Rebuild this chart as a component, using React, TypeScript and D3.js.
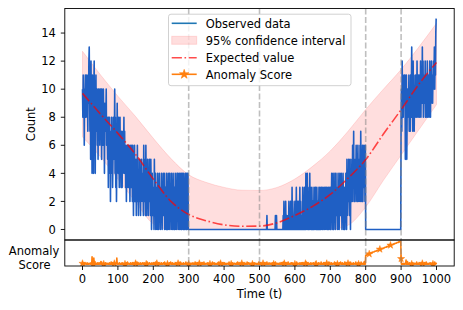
import React from "react";
import * as d3 from "d3";

const Z = "0000000000";

// Observed counts, one hex digit per time step t = 0..1000
const observedChunks = [
  "a8b9a6a9b8", "9ab8a7b9cd", "a7b5c8a4b9", "84ac6a49b7", "8a695a7a86",
  "9a7a5a896a", "7849798a68", "7583868472", "6484735857", "6a48372596",
  "7485368473", "5736475847", "4636253645", "3645264536", "5264153624",
  "3514263514", "4253142534", "2416352416", "3142531425", "2415302413",
  "1305214031", "2041302413", "0314203142", "1402310420", "3041204132",
  "0413024103", "2041302414", "0314024103", "4024104302", "1404204140",
  Z, Z, Z, Z, Z, Z, Z, Z, Z, Z, Z, Z, Z, Z, Z, Z, Z, Z, Z, Z, Z, Z,
  "0100000000", "0000000000", "0000010010", "0000000000", "0000000102",
  "0010200100", "0102001020", "1030201001", "2010301020", "0201302010",
  "1030201302", "0403140201", "3041302031", "0201302130", "2031020130",
  "1302031203", "0213021302", "3102301320", "1302413042", "0314204131",
  "2041302413", "1420314203", "2031420513", "4253125042", "3526437253",
  "2536425263", "4253627352", "3625364526",
  Z, Z, Z, Z, Z, Z, Z, Z, Z, Z,
  "8a7c9b8a9b", "9b5a7b58a9", "a8b79a7b8a", "d8a7c9b7a9", "8b9a8c9a8b",
  "9b8a9c8ba9", "d9c8a9b9c8", "a8b9c8a9b8", "9ca8b9cab9", "bacbdacbef",
  "f",
];
const observed: number[] = observedChunks.join("").split("").map((c) => parseInt(c, 16));

// Anomaly score, one base-36 digit per time step (value / 35)
const scoreChunks = [
  "2121312122", "1213121212", "2121321c32", "12a2151212", "1213121312",
  "2151412121", "1212131212", "2121213121", "1412131212", "2121213a21",
  "1212312121", "2131212121", "1213121412", "2121213121", "1312121213",
  "2121412121", "1213121213", "2121312121", "1214121213", "2121213121",
  "1312121412", "2121312121", "1213121213", "2141212121", "1212131214",
  "2121312121", "1213121212", "2131214121", "1212131212", "2141212131",
  "1212121212", "2131212141", "1212131212", "2121212131", "1214121212",
  "2121312121", "1212121412", "2131212121", "1212141212", "2121213121",
  "1312121212", "2121412121", "1213121212", "2121213141", "1212121212",
  "2131212121", "1212141213", "2121212121", "1312131212", "2121212141",
  "1213121212", "2121312121", "1412121312", "2121213121", "1312141212",
  "2121212131", "1213121412", "2121312121", "1412121213", "2131212121",
  "1212141212", "2121312131", "1312121212", "2141213121", "1212131212",
  "2131212141", "1212121312", "2121412121", "1312131212", "2121214131",
  "1213121212", "2141213121", "1212131214", "2121312121", "1412121312",
  "2131214121", "1212131212", "2141212131", "1312121412", "2121315121",
  "eeefffgggg", "ghhhhiiiii", "jjjjjkkkkk", "lllllmmmmm", "nnnnoooooo",
  "ppppqqqqqr", "rrrrssssst", "ttttuuuuuv", "vvvwwwwwxx", "xxxyyyyyzz",
  "9121121212", "1213712151", "2121312121", "1213121212", "2121412121",
  "1312121312", "2121213121", "1412121212", "2131212131", "1212141212",
  "1",
];
const anomalyScore: number[] = scoreChunks.join("").split("").map((c) => parseInt(c, 36) / 35);

// Expected value and 95% confidence interval, sampled every 50 steps
const sampleT = [0, 50, 100, 150, 200, 250, 300, 350, 400, 450, 500, 550, 600, 650, 700, 750, 800, 850, 900, 950, 1000];
const expectedV = [9.7, 8.25, 6.85, 5.35, 3.6, 2.0, 1.07, 0.62, 0.33, 0.23, 0.24, 0.48, 1.0, 1.65, 2.5, 3.65, 4.98, 6.8, 8.54, 10.35, 11.9];
const ciUpper = [12.7, 11.05, 9.5, 8.05, 6.5, 5.05, 3.9, 3.35, 3.0, 2.8, 2.78, 3.0, 3.6, 4.5, 5.6, 7.0, 8.55, 10.0, 11.4, 13.0, 14.7];
const ciLower = [6.6, 5.2, 3.6, 1.95, 0.4, 0, 0, 0, 0, 0, 0, 0, 0, 0, 0, 0.3, 1.6, 3.5, 5.3, 7.1, 8.9];

const xTicks = [0, 100, 200, 300, 400, 500, 600, 700, 800, 900, 1000];
const yTicks = [0, 2, 4, 6, 8, 10, 12, 14];
const changePoints = [300, 500, 800, 900];
const legendLabels = ["Observed data", "95% confidence interval", "Expected value", "Anomaly Score"];

const FONT = "DejaVu Sans, sans-serif";
const FS = 11.5;

export default function App() {
  const W = 463, H = 310;
  const L = 64.8, R = 454.2, T = 8.5, MB = 240, AB = 266;
  const x = d3.scaleLinear().domain([-50, 1050]).range([L, R]);
  const y = d3.scaleLinear().domain([-0.75, 15.75]).range([MB, T]);
  const ys = d3.scaleLinear().domain([-0.05, 1.05]).range([AB, MB]);

  const obsPath = d3.line<number>().x((_, i) => x(i)).y((d) => y(d))(observed) || "";
  const expPath = d3.line<number>().x((_, i) => x(sampleT[i])).y((d) => y(d)).curve(d3.curveMonotoneX)(expectedV) || "";
  const bandPath = d3.area<number>()
    .x((_, i) => x(sampleT[i]))
    .y0((_, i) => y(ciLower[i]))
    .y1((d) => y(d))
    .curve(d3.curveMonotoneX)(ciUpper) || "";
  const scorePath = d3.line<number>().x((_, i) => x(i)).y((d) => ys(d))(anomalyScore) || "";
  const star = d3.symbol().type(d3.symbolStar).size(16)() || "";
  const markIdx = anomalyScore.map((_, i) => i).filter((i) => i % 30 === 0);

  const orange = "#ff7f0e";
  const dataBlue = "#1f5fc4";
  const LW = 1.6;
  const dashDot = "10.2,2.6,1.6,2.6";
  const dash = "5.9,2.6";

  const legX0 = 171.7, legX1 = 196.7, legTx = 205.7;
  const rows = [23.3, 40.3, 57.7, 74.3];

  return (
    <svg width={W} height={H} style={{ position: "absolute", left: 0, top: 0, background: "white" }} fontFamily={FONT}>
      <defs>
        <clipPath id="mainClip"><rect x={L} y={T} width={R - L} height={MB - T} /></clipPath>
        <clipPath id="scoreClip"><rect x={L} y={MB} width={R - L} height={AB - MB} /></clipPath>
      </defs>
      <rect x={0} y={0} width={W} height={H} fill="white" />
      <g clipPath="url(#mainClip)">
        <path d={bandPath} fill="red" fillOpacity={0.13} stroke="red" strokeOpacity={0.12} strokeWidth={1} />
        <path d={obsPath} fill="none" stroke={dataBlue} strokeWidth={LW} strokeLinejoin="round" />
        <path d={expPath} fill="none" stroke="red" strokeOpacity={0.7} strokeWidth={LW} strokeDasharray={dashDot} />
        {changePoints.map((t) => (
          <line key={t} x1={x(t)} x2={x(t)} y1={T} y2={MB} stroke="gray" strokeOpacity={0.5} strokeWidth={LW} strokeDasharray={dash} />
        ))}
      </g>
      <g clipPath="url(#scoreClip)">
        <path d={scorePath} fill="none" stroke={orange} strokeWidth={LW} strokeLinejoin="round" />
        {markIdx.map((i) => (
          <path key={i} d={star} transform={`translate(${x(i)},${ys(anomalyScore[i])})`} fill={orange} stroke={orange} strokeWidth={0.5} />
        ))}
        {changePoints.map((t) => (
          <line key={t} x1={x(t)} x2={x(t)} y1={MB} y2={AB} stroke="gray" strokeOpacity={0.5} strokeWidth={LW} strokeDasharray={dash} />
        ))}
      </g>
      {/* frames */}
      <rect x={L} y={T} width={R - L} height={MB - T} fill="none" stroke="black" strokeWidth={0.9} />
      <rect x={L} y={MB} width={R - L} height={AB - MB} fill="none" stroke="black" strokeWidth={0.9} />
      {/* y ticks */}
      {yTicks.map((v) => (
        <g key={v}>
          <line x1={L - 4} x2={L} y1={y(v)} y2={y(v)} stroke="black" strokeWidth={0.9} />
          <text x={L - 9} y={y(v) + 4.2} fontSize={FS} textAnchor="end" fill="black">{v}</text>
        </g>
      ))}
      {/* x ticks */}
      {xTicks.map((v) => (
        <g key={v}>
          <line x1={x(v)} x2={x(v)} y1={AB} y2={AB + 4} stroke="black" strokeWidth={0.9} />
          <text x={x(v)} y={282.6} fontSize={FS} textAnchor="middle" fill="black">{v}</text>
        </g>
      ))}
      <text x={35} y={(T + MB) / 2} fontSize={FS} textAnchor="middle" transform={`rotate(-90, 35, ${(T + MB) / 2})`}>Count</text>
      <text x={34} y={255} fontSize={FS} textAnchor="middle">Anomaly</text>
      <text x={34.5} y={268.5} fontSize={FS} textAnchor="middle">Score</text>
      <text x={(L + R) / 2} y={298.2} fontSize={FS} textAnchor="middle">Time (t)</text>
      {/* legend */}
      <rect x={168.5} y={14.2} width={182.5} height={71.5} rx={2.5} fill="white" fillOpacity={0.8} stroke="#cccccc" strokeWidth={0.9} />
      <line x1={legX0} x2={legX1} y1={rows[0]} y2={rows[0]} stroke="#1f77b4" strokeWidth={LW} />
      <rect x={legX0} y={rows[1] - 4} width={legX1 - legX0} height={8} fill="red" fillOpacity={0.13} stroke="red" strokeOpacity={0.12} strokeWidth={1} />
      <line x1={legX0} x2={legX1} y1={rows[2]} y2={rows[2]} stroke="red" strokeOpacity={0.7} strokeWidth={LW} strokeDasharray={dashDot} />
      <line x1={legX0} x2={legX1} y1={rows[3]} y2={rows[3]} stroke={orange} strokeWidth={LW} />
      <path d={star} transform={`translate(${(legX0 + legX1) / 2},${rows[3]}) scale(1.3)`} fill={orange} stroke={orange} strokeWidth={0.5} />
      {legendLabels.map((s, i) => (
        <text key={s} x={legTx} y={rows[i] + 4.2} fontSize={FS} fill="black">{s}</text>
      ))}
    </svg>
  );
}
